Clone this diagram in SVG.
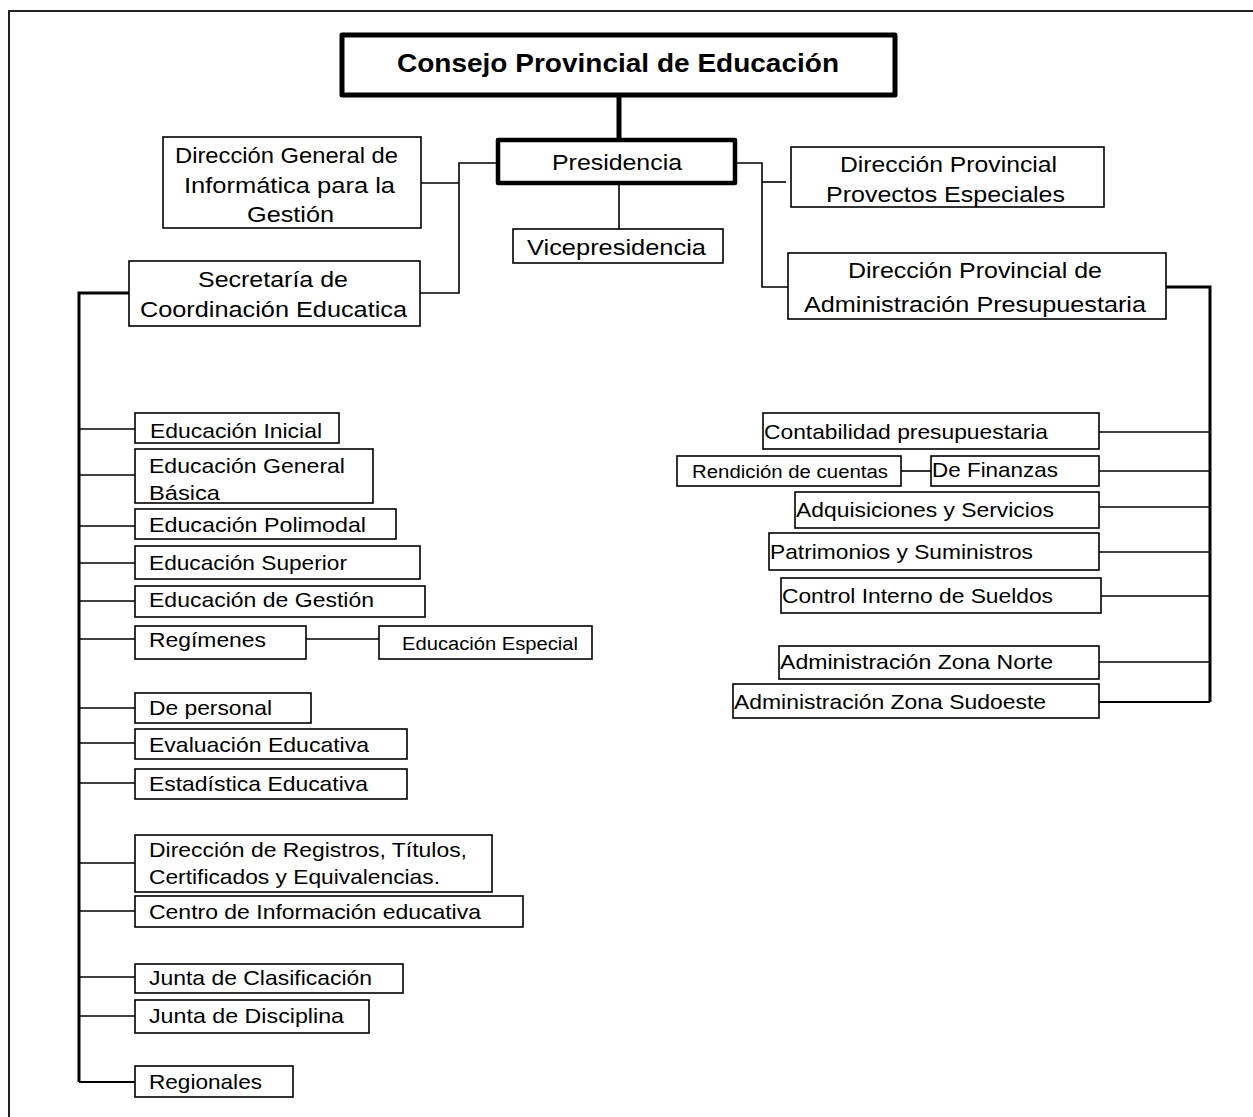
<svg xmlns="http://www.w3.org/2000/svg" width="1253" height="1117" viewBox="0 0 1253 1117">
<style>
  .box { fill: #fff; stroke: #000; stroke-width: 1.6; }
  .thick { fill: #fff; stroke: #000; stroke-width: 5; stroke-linejoin: round; }
  .t { font-family: "Liberation Sans", Arial, sans-serif; font-size: 21px; fill: #000; }
  .s { font-family: "Liberation Sans", Arial, sans-serif; font-size: 18px; fill: #000; }
  .title { font-family: "Liberation Sans", Arial, sans-serif; font-size: 26px; font-weight: bold; fill: #000; }
  .c { fill: none; stroke: #000; stroke-width: 1.6; }
  .ct { fill: none; stroke: #000; stroke-width: 3; }
</style>
<rect width="1253" height="1117" fill="#fff"/>
<path d="M9 1117 V11 H1253" fill="none" stroke="#222" stroke-width="2"/>

<g id="connectors">
  <line class="ct" x1="619" y1="95" x2="619" y2="140" style="stroke-width:5"/>
  <line class="c" x1="619" y1="183" x2="619" y2="229"/>
  <polyline class="c" points="498,163 459,163 459,293 420,293"/>
  <line class="c" x1="421" y1="183" x2="459" y2="183"/>
  <polyline class="c" points="735,163 762,163 762,287 788,287"/>
  <line class="c" x1="762" y1="182" x2="786" y2="182"/>
  <polyline class="ct" points="129,293 79,293 79,1082"/>
  <line class="c" x1="79" y1="1082" x2="135" y2="1082" style="stroke-width:2.2"/>
  <line class="c" x1="79" y1="429" x2="135" y2="429"/>
  <line class="c" x1="79" y1="475" x2="135" y2="475"/>
  <line class="c" x1="79" y1="526" x2="135" y2="526"/>
  <line class="c" x1="79" y1="563" x2="135" y2="563"/>
  <line class="c" x1="79" y1="601" x2="135" y2="601"/>
  <line class="c" x1="79" y1="639" x2="135" y2="639"/>
  <line class="c" x1="306" y1="639" x2="379" y2="639"/>
  <line class="c" x1="79" y1="708" x2="135" y2="708"/>
  <line class="c" x1="79" y1="743" x2="135" y2="743"/>
  <line class="c" x1="79" y1="783" x2="135" y2="783"/>
  <line class="c" x1="79" y1="863" x2="135" y2="863"/>
  <line class="c" x1="79" y1="911" x2="135" y2="911"/>
  <line class="c" x1="79" y1="977" x2="135" y2="977"/>
  <line class="c" x1="79" y1="1016" x2="135" y2="1016"/>
  <polyline class="ct" points="1166,287 1210,287 1210,702"/>
  <line class="c" x1="1099" y1="702" x2="1210" y2="702" style="stroke-width:2.2"/>
  <line class="c" x1="1099" y1="432" x2="1210" y2="432"/>
  <line class="c" x1="1099" y1="471" x2="1210" y2="471"/>
  <line class="c" x1="901" y1="471" x2="931" y2="471"/>
  <line class="c" x1="1099" y1="507" x2="1210" y2="507"/>
  <line class="c" x1="1099" y1="552" x2="1210" y2="552"/>
  <line class="c" x1="1101" y1="596" x2="1210" y2="596"/>
  <line class="c" x1="1099" y1="662" x2="1210" y2="662"/>
</g>

<g id="consejo">
  <rect class="thick" x="342" y="35" width="553" height="60"/>
  <text class="title" x="397" y="72" textLength="442" lengthAdjust="spacingAndGlyphs">Consejo Provincial de Educación</text>
</g>
<g id="presidencia">
  <rect class="thick" x="498" y="140" width="237" height="43" style="stroke-width:4.5"/>
  <text class="t" x="552" y="170" textLength="130" lengthAdjust="spacingAndGlyphs" style="font-size:22px">Presidencia</text>
</g>
<g id="vicepresidencia">
  <rect class="box" x="513" y="229" width="210" height="34"/>
  <text class="t" x="527" y="255" textLength="179" lengthAdjust="spacingAndGlyphs" style="font-size:22px">Vicepresidencia</text>
</g>
<g id="dg-informatica">
  <rect class="box" x="163" y="137" width="258" height="91"/>
  <text class="t" style="font-size:22px" x="175" y="163" textLength="223" lengthAdjust="spacingAndGlyphs">Dirección General de</text>
  <text class="t" style="font-size:22px" x="184" y="193" textLength="211" lengthAdjust="spacingAndGlyphs">Informática para la</text>
  <text class="t" style="font-size:22px" x="247" y="222" textLength="87" lengthAdjust="spacingAndGlyphs">Gestión</text>
</g>
<g id="secretaria">
  <rect class="box" x="129" y="261" width="291" height="65"/>
  <text class="t" style="font-size:22px" x="198" y="287" textLength="150" lengthAdjust="spacingAndGlyphs">Secretaría de</text>
  <text class="t" style="font-size:22px" x="140" y="317" textLength="267" lengthAdjust="spacingAndGlyphs">Coordinación Educatica</text>
</g>
<g id="dp-proyectos">
  <rect class="box" x="791" y="147" width="313" height="60"/>
  <text class="t" style="font-size:22px" x="840" y="172" textLength="217" lengthAdjust="spacingAndGlyphs">Dirección Provincial</text>
  <text class="t" style="font-size:22px" x="826" y="202" textLength="239" lengthAdjust="spacingAndGlyphs">Provectos Especiales</text>
</g>
<g id="dp-admin">
  <rect class="box" x="788" y="253" width="378" height="66"/>
  <text class="t" style="font-size:22px" x="848" y="278" textLength="254" lengthAdjust="spacingAndGlyphs">Dirección Provincial de</text>
  <text class="t" style="font-size:22px" x="804" y="312" textLength="342" lengthAdjust="spacingAndGlyphs">Administración Presupuestaria</text>
</g>

<g id="ed-inicial"><rect class="box" x="135" y="413" width="204" height="30"/><text class="t" x="150" y="438" textLength="172" lengthAdjust="spacingAndGlyphs">Educación Inicial</text></g>
<g id="ed-gb"><rect class="box" x="135" y="449" width="238" height="54"/><text class="t" x="149" y="473" textLength="196" lengthAdjust="spacingAndGlyphs">Educación General</text><text class="t" x="149" y="500" textLength="71" lengthAdjust="spacingAndGlyphs">Básica</text></g>
<g id="ed-polimodal"><rect class="box" x="135" y="509" width="261" height="30"/><text class="t" x="149" y="532" textLength="217" lengthAdjust="spacingAndGlyphs">Educación Polimodal</text></g>
<g id="ed-superior"><rect class="box" x="135" y="546" width="285" height="33"/><text class="t" x="149" y="570" textLength="198" lengthAdjust="spacingAndGlyphs">Educación Superior</text></g>
<g id="ed-gestion"><rect class="box" x="135" y="586" width="290" height="31"/><text class="t" x="149" y="607" textLength="225" lengthAdjust="spacingAndGlyphs">Educación de Gestión</text></g>
<g id="regimenes"><rect class="box" x="135" y="626" width="171" height="33"/><text class="t" x="149" y="647" textLength="117" lengthAdjust="spacingAndGlyphs">Regímenes</text></g>
<g id="ed-especial"><rect class="box" x="379" y="626" width="213" height="33"/><text class="s" x="402" y="650" textLength="176" lengthAdjust="spacingAndGlyphs">Educación Especial</text></g>
<g id="de-personal"><rect class="box" x="135" y="693" width="176" height="30"/><text class="t" x="149" y="715" textLength="123" lengthAdjust="spacingAndGlyphs">De personal</text></g>
<g id="evaluacion"><rect class="box" x="135" y="729" width="272" height="30"/><text class="t" x="149" y="752" textLength="220" lengthAdjust="spacingAndGlyphs">Evaluación Educativa</text></g>
<g id="estadistica"><rect class="box" x="135" y="769" width="272" height="30"/><text class="t" x="149" y="791" textLength="219" lengthAdjust="spacingAndGlyphs">Estadística Educativa</text></g>
<g id="registros"><rect class="box" x="135" y="835" width="357" height="57"/><text class="t" x="149" y="857" textLength="318" lengthAdjust="spacingAndGlyphs">Dirección de Registros, Títulos,</text><text class="t" x="149" y="884" textLength="291" lengthAdjust="spacingAndGlyphs">Certificados y Equivalencias.</text></g>
<g id="centro-info"><rect class="box" x="135" y="896" width="388" height="31"/><text class="t" x="149" y="919" textLength="332" lengthAdjust="spacingAndGlyphs">Centro de Información educativa</text></g>
<g id="junta-clasificacion"><rect class="box" x="135" y="964" width="268" height="29"/><text class="t" x="149" y="985" textLength="223" lengthAdjust="spacingAndGlyphs">Junta de Clasificación</text></g>
<g id="junta-disciplina"><rect class="box" x="135" y="1000" width="234" height="33"/><text class="t" x="149" y="1023" textLength="195" lengthAdjust="spacingAndGlyphs">Junta de Disciplina</text></g>
<g id="regionales"><rect class="box" x="135" y="1066" width="158" height="31"/><text class="t" x="149" y="1089" textLength="113" lengthAdjust="spacingAndGlyphs">Regionales</text></g>

<g id="contabilidad"><rect class="box" x="763" y="413" width="336" height="36"/><text class="t" x="764" y="439" textLength="284" lengthAdjust="spacingAndGlyphs">Contabilidad presupuestaria</text></g>
<g id="rendicion"><rect class="box" x="677" y="456" width="224" height="30"/><text class="s" x="692" y="478" textLength="196" lengthAdjust="spacingAndGlyphs">Rendición de cuentas</text></g>
<g id="finanzas"><rect class="box" x="931" y="456" width="168" height="30"/><text class="t" x="932" y="477" textLength="126" lengthAdjust="spacingAndGlyphs">De Finanzas</text></g>
<g id="adquisiciones"><rect class="box" x="795" y="492" width="304" height="36"/><text class="t" x="796" y="517" textLength="258" lengthAdjust="spacingAndGlyphs">Adquisiciones y Servicios</text></g>
<g id="patrimonios"><rect class="box" x="769" y="533" width="330" height="37"/><text class="t" x="770" y="559" textLength="263" lengthAdjust="spacingAndGlyphs">Patrimonios y Suministros</text></g>
<g id="control-sueldos"><rect class="box" x="781" y="578" width="320" height="35"/><text class="t" x="782" y="603" textLength="271" lengthAdjust="spacingAndGlyphs">Control Interno de Sueldos</text></g>
<g id="zona-norte"><rect class="box" x="779" y="646" width="320" height="33"/><text class="t" x="780" y="669" textLength="273" lengthAdjust="spacingAndGlyphs">Administración Zona Norte</text></g>
<g id="zona-sudoeste"><rect class="box" x="733" y="684" width="366" height="34"/><text class="t" x="734" y="709" textLength="312" lengthAdjust="spacingAndGlyphs">Administración Zona Sudoeste</text></g>
</svg>
